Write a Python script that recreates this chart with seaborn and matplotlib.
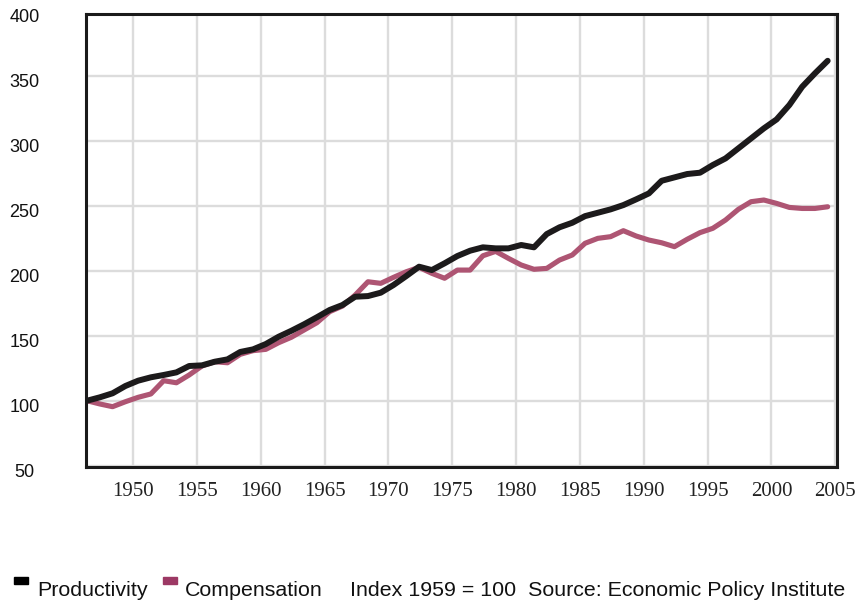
import matplotlib
matplotlib.use("Agg")
import matplotlib.pyplot as plt
import matplotlib.transforms as mtransforms
from matplotlib.patches import Rectangle
import pandas as pd
import seaborn as sns

years = list(range(1947, 2006))
productivity = [
    100.0, 102.6, 105.7, 111.3, 115.4, 118.0, 119.8, 121.8, 126.7, 127.2,
    130.0, 131.8, 137.5, 139.5, 143.6, 149.2, 153.8, 158.8, 164.2, 169.8,
    173.6, 180.0, 180.5, 183.1, 189.0, 195.9, 203.1, 200.5, 205.7, 211.3,
    215.4, 218.0, 217.2, 217.2, 219.8, 218.0, 228.2, 233.4, 236.9, 242.0,
    244.6, 247.2, 250.5, 254.9, 259.5, 269.2, 271.8, 274.4, 275.4, 281.3,
    286.4, 294.1, 301.8, 309.5, 316.4, 327.5, 341.5, 351.8, 361.5,
]
compensation = [
    100.0, 97.5, 95.4, 99.2, 102.6, 105.2, 115.4, 113.8, 119.8, 126.7,
    130.0, 129.2, 135.7, 138.5, 139.5, 144.6, 148.8, 154.4, 160.0, 168.5,
    172.8, 181.3, 191.5, 190.3, 194.9, 199.2, 202.6, 198.0, 194.2, 200.5,
    200.5, 211.5, 214.9, 209.5, 204.4, 201.1, 201.8, 208.2, 212.1, 221.1,
    224.9, 226.2, 230.8, 226.7, 223.6, 221.5, 218.5, 224.2, 229.3, 232.6,
    239.0, 247.2, 253.1, 254.4, 251.8, 248.7, 247.9, 247.9, 249.2,
]
y_ticks = [50, 100, 150, 200, 250, 300, 350]
x_tick_years = list(range(1950, 2006, 5))
footer_note = "Index 1959 = 100  Source: Economic Policy Institute"

sns.set_theme(style="white")
plt.rcParams["font.family"] = ["Liberation Sans", "DejaVu Sans"]

df = pd.DataFrame({"year": years, "Productivity": productivity,
                   "Compensation": compensation})

fig = plt.figure(figsize=(8.6, 6.01), dpi=100)
ax = fig.add_axes([86 / 860, 134 / 601, 751 / 860, 453 / 601])

sns.lineplot(data=df, x="year", y="Compensation", color="#ae5573",
             linewidth=3.7, ax=ax)
sns.lineplot(data=df, x="year", y="Productivity", color="#1c1a1b",
             linewidth=4.3, ax=ax)

ax.set_xlim(1946.92, 2005.73)
ax.set_ylim(49, 397.5)
ax.set_xlabel("")
ax.set_ylabel("")

# year labels sit a bit right of the data years in the original
ax.set_xticks([y + 0.6 for y in x_tick_years])
ax.set_xticklabels([str(y) for y in x_tick_years],
                   fontfamily=["Liberation Serif", "DejaVu Serif"],
                   fontsize=15, color="#222222")
ax.set_yticks(y_ticks)
ax.set_yticklabels([str(v) for v in y_ticks], fontsize=13, color="#111111")

ax.tick_params(axis="x", direction="in", length=10, width=2.2,
               color="#1a1a1a", pad=11)
ax.tick_params(axis="y", direction="in", length=9.4, width=2.2,
               color="#1a1a1a", pad=44.3)

shift = mtransforms.ScaledTranslation(0, -0.045, fig.dpi_scale_trans)
for lab in ax.get_yticklabels():
    lab.set_horizontalalignment("center")
    lab.set_transform(lab.get_transform() + shift)

# top label: 400 lies just above the frame
ax.text(-61.5 / 751, 400, "400", transform=ax.get_yaxis_transform() + shift,
        ha="center", va="center_baseline", fontsize=13, color="#111111",
        clip_on=False)

for s in ax.spines.values():
    s.set_visible(True)
    s.set_linewidth(2.2)
    s.set_color("#1a1a1a")

ax.grid(True, color="#dcdcdc", linewidth=1.7)
ax.set_axisbelow(True)

# footer legend
fig.patches.append(Rectangle((14 / 860, 17 / 601), 14 / 860, 7 / 601,
                             transform=fig.transFigure, color="#000000"))
fig.patches.append(Rectangle((163 / 860, 17 / 601), 14 / 860, 7 / 601,
                             transform=fig.transFigure, color="#9c3864"))
fig.text(37.5 / 860, 5 / 601, "Productivity", fontsize=15.4,
         va="baseline", color="#111111")
fig.text(185 / 860, 5 / 601, "Compensation", fontsize=15.4,
         va="baseline", color="#111111")
fig.text(350 / 860, 5 / 601, footer_note, fontsize=15.4,
         va="baseline", color="#111111")

fig.savefig("out.png", dpi=100)
